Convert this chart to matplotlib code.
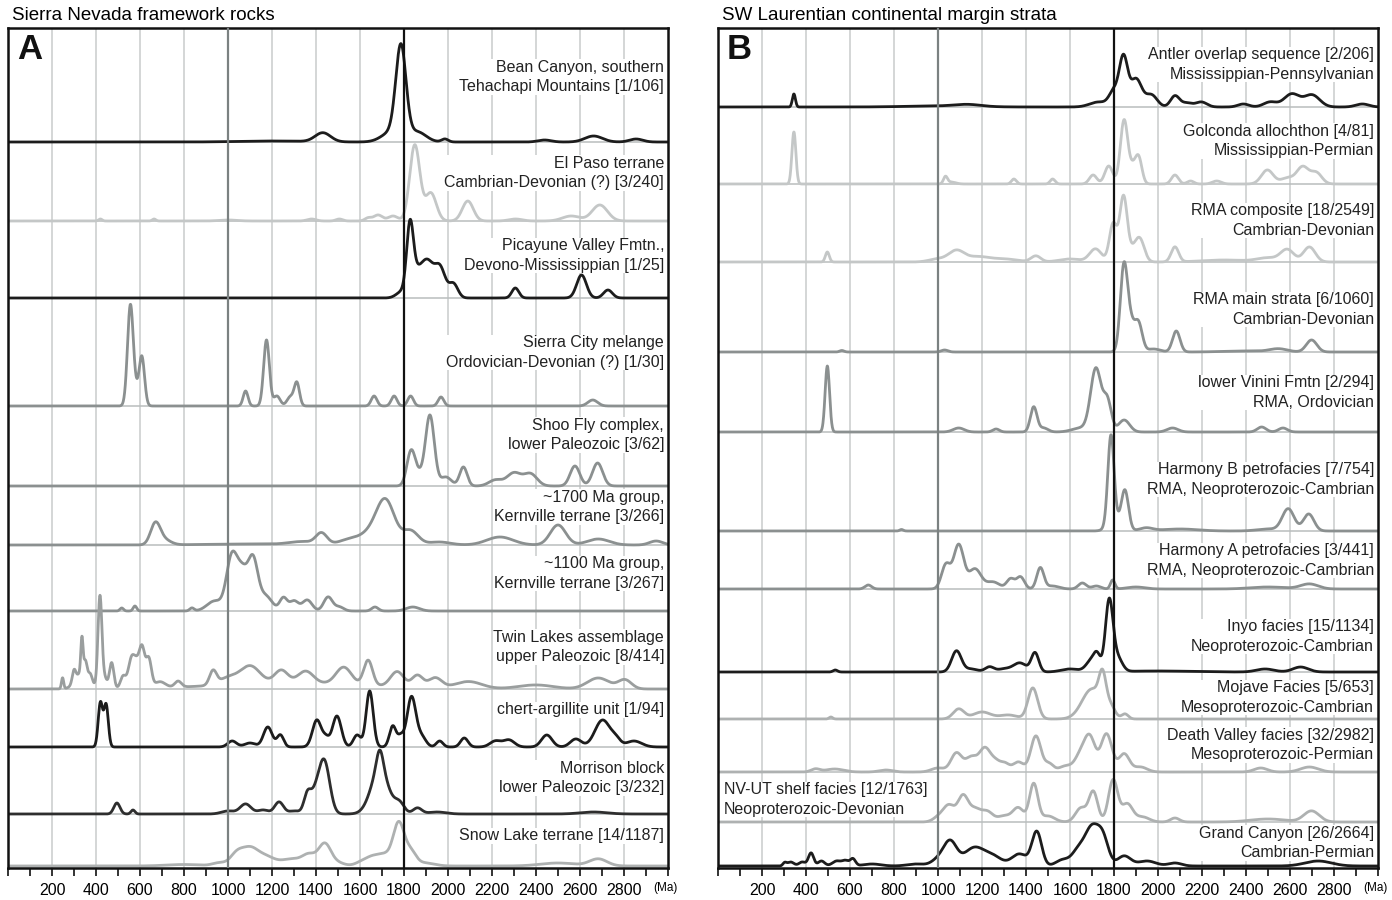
import numpy as np
import matplotlib.pyplot as plt

plt.rcParams['font.family'] = ['Liberation Sans', 'DejaVu Sans']

# detrital zircon age peaks: (age Ma, peak height, spread Ma)
BEAN_CANYON = [(1786, 90, 23), (1745, 10, 45), (1860, 10, 40), (1431, 9, 35), (1986, 3, 15),
               (2439, 2, 30), (2662, 6, 40), (2855, 3, 30), (1200, 1, 150)]
EL_PASO = [(1849, 76, 23), (1922, 28, 25), (2090, 20, 25), (1682, 6, 20), (1750, 5, 22),
           (1637, 3, 15), (1506, 2, 15), (1380, 2, 20), (2690, 16, 35), (2560, 5, 40),
           (2307, 2, 30), (420, 2, 8), (664, 2, 8), (1000, 1, 40)]
PICAYUNE = [(1790, 6, 25), (1827, 62, 15), (1850, 20, 25), (1905, 36, 30), (1965, 28, 24),
            (2025, 14, 20), (2306, 10, 16), (2607, 23, 22), (2727, 8, 20)]
SIERRA_CITY = [(556, 96, 13), (609, 44, 12), (583, 14, 20), (1080, 15, 11), (1175, 66, 13),
               (1222, 10, 15), (1283, 9, 15), (1313, 23, 12), (1664, 10, 13), (1755, 10, 13),
               (1830, 10, 13), (1968, 9, 13), (2658, 6, 22)]
SHOO_FLY = [(1832, 34, 19), (1870, 10, 22), (1918, 70, 20), (1990, 9, 25), (2070, 19, 17),
            (2216, 6, 30), (2300, 13, 32), (2375, 12, 30), (2577, 20, 22), (2680, 23, 23)]
KERN_1700 = [(670, 21, 22), (710, 5, 30), (1425, 11, 25), (1340, 3, 60), (1560, 6, 50),
             (1640, 8, 40), (1715, 45, 42), (1830, 14, 35), (1960, 3, 50), (2236, 8, 60),
             (2500, 20, 35), (2683, 6, 50), (2946, 4, 30), (1100, 1, 200)]
KERN_1100 = [(940, 10, 35), (1017, 52, 24), (1065, 37, 25), (1114, 48, 22), (1170, 15, 30),
             (1252, 13, 17), (1300, 10, 20), (1360, 11, 22), (1455, 14, 20), (1506, 4, 20),
             (1668, 4, 15), (1840, 4, 30), (517, 3, 8), (577, 5, 8), (836, 3, 10)]
TWIN_LAKES = [(248, 11, 5), (340, 18, 30), (300, 12, 8), (336, 34, 5), (352, 12, 7),
              (375, 6, 8), (418, 92, 9), (440, 10, 10), (471, 26, 10), (523, 12, 12),
              (562, 30, 15), (585, 16, 12), (609, 40, 13), (640, 28, 12), (690, 6, 25),
              (773, 6, 15), (932, 14, 16), (1000, 7, 40), (1100, 18, 45), (1242, 13, 30),
              (1353, 12, 35), (1526, 17, 35), (1637, 25, 20), (1769, 15, 30), (1861, 12, 25),
              (1942, 10, 30), (2094, 7, 60), (2399, 4, 80), (2683, 11, 50), (2804, 9, 30),
              (1300, 6, 350)]
CHERT_ARGILLITE = [(420, 44, 10), (446, 42, 10), (1019, 6, 20), (1100, 4, 25), (1181, 20, 20),
                   (1238, 12, 15), (1404, 27, 20), (1445, 8, 15), (1495, 31, 20), (1587, 12, 17),
                   (1644, 56, 16), (1749, 21, 15), (1785, 10, 14), (1834, 50, 20), (1880, 10, 20),
                   (1962, 6, 15), (2074, 9, 17), (2216, 6, 25), (2277, 7, 25), (2449, 12, 24),
                   (2581, 8, 25), (2703, 27, 35), (2764, 6, 20), (2845, 6, 35)]
MORRISON = [(495, 11, 14), (568, 4, 9), (1000, 3, 30), (1080, 10, 25), (1160, 4, 25),
            (1232, 12, 20), (1300, 3, 25), (1360, 14, 15), (1400, 22, 30), (1440, 45, 24),
            (1690, 20, 15), (1690, 44, 40), (1780, 10, 22), (1861, 6, 20), (1950, 2, 40),
            (2662, 2, 60)]
SNOW_LAKE = [(960, 3, 30), (1040, 12, 30), (1100, 16, 35), (1170, 9, 40), (1290, 7, 50),
             (1370, 10, 30), (1440, 22, 28), (1500, 3, 30), (1610, 4, 30), (1660, 8, 30),
             (1715, 10, 30), (1776, 42, 25), (1830, 14, 25), (1900, 3, 40), (2500, 3, 80),
             (2683, 7, 40), (800, 1.5, 80)]

ANTLER = [(345, 13, 7), (1135, 2, 60), (1000, 1, 150), (1730, 5, 40), (1800, 15, 22),
          (1843, 48, 19), (1900, 28, 26), (1970, 12, 26), (2077, 11, 20), (2130, 4, 25),
          (2197, 5, 25), (2388, 3, 25), (2510, 5, 30), (2608, 13, 35), (2700, 12, 35),
          (2929, 3, 30)]
GOLCONDA = [(345, 52, 9), (1034, 7, 9), (1060, 2, 20), (1345, 5, 11), (1521, 5, 11),
            (1705, 9, 17), (1776, 18, 18), (1846, 64, 17), (1885, 14, 15), (1912, 26, 15),
            (2077, 9, 16), (2148, 3, 15), (2267, 3, 20), (2497, 14, 27), (2588, 6, 30),
            (2658, 17, 27), (2720, 11, 25)]
RMA_COMPOSITE = [(497, 10, 9), (1000, 3, 40), (1084, 11, 35), (1180, 5, 50), (1300, 3, 60),
                 (1445, 6, 22), (1600, 3, 50), (1716, 13, 27), (1796, 38, 17), (1843, 64, 17),
                 (1890, 12, 25), (1920, 18, 20), (2077, 15, 17), (2300, 2, 100), (2500, 4, 50),
                 (2588, 12, 30), (2688, 15, 27)]
RMA_MAIN = [(563, 1.5, 10), (1030, 2, 15), (1844, 78, 16), (1872, 30, 20), (1912, 27, 17),
            (1980, 3, 30), (2083, 21, 17), (2548, 3, 40), (2698, 12, 24), (2400, 1, 100)]
LOWER_VININI = [(497, 66, 10), (1094, 4, 25), (1264, 3, 15), (1435, 25, 15), (1480, 4, 20),
                (1650, 4, 40), (1718, 63, 24), (1770, 30, 18), (1846, 12, 25), (2066, 4, 25),
                (2471, 5, 20), (2568, 4, 20)]
HARMONY_B = [(834, 1.5, 8), (1786, 88, 14), (1805, 10, 30), (1850, 38, 16), (1946, 3, 30),
             (2100, 2, 80), (2500, 2, 50), (2592, 22, 27), (2685, 17, 24)]
HARMONY_A = [(683, 4, 15), (1036, 24, 20), (1094, 44, 23), (1168, 20, 28), (1250, 7, 30),
             (1330, 10, 18), (1375, 12, 18), (1465, 21, 16), (1520, 3, 30), (1656, 6, 18),
             (1720, 3, 20), (1794, 9, 10), (1900, 2, 40), (2500, 2, 80), (2688, 5, 40)]
INYO = [(533, 2, 10), (1084, 21, 22), (1150, 3, 30), (1234, 5, 20), (1300, 3, 30),
        (1372, 9, 30), (1441, 19, 17), (1600, 3, 40), (1700, 12, 25), (1724, 12, 15),
        (1778, 70, 17), (1815, 14, 22), (2000, 1, 150), (2487, 3, 40), (2648, 5, 35)]
MOJAVE = [(513, 2, 8), (1094, 10, 25), (1200, 7, 40), (1320, 4, 40), (1431, 31, 22),
          (1700, 30, 45), (1748, 31, 16), (1785, 10, 20), (1850, 5, 15)]
DEATH_VALLEY = [(443, 3, 20), (530, 3, 40), (763, 2, 30), (1000, 4, 30), (1084, 19, 25),
                (1150, 14, 25), (1214, 24, 27), (1265, 8, 20), (1304, 8, 20), (1365, 10, 25),
                (1445, 36, 23), (1505, 8, 20), (1580, 6, 30), (1646, 15, 25), (1690, 34, 25),
                (1766, 38, 25), (1846, 18, 24), (1920, 5, 30), (2467, 4, 30), (2688, 5, 40)]
NV_UT_SHELF = [(1004, 5, 25), (1050, 16, 25), (1114, 26, 24), (1170, 12, 25), (1224, 10, 25),
               (1300, 6, 30), (1365, 14, 25), (1435, 38, 19), (1500, 6, 30), (1650, 14, 25),
               (1706, 30, 20), (1796, 42, 21), (1860, 18, 25), (1930, 5, 30), (2077, 4, 20),
               (2500, 3, 80), (2698, 11, 35)]
GRAND_CANYON = [(303, 3, 8), (330, 4, 15), (383, 4, 15), (423, 13, 12), (470, 5, 15),
                (540, 5, 20), (580, 5, 15), (613, 7, 12), (700, 2, 40), (900, 2, 40),
                (1000, 6, 30), (1055, 24, 30), (1164, 18, 45), (1250, 9, 40), (1370, 12, 35),
                (1449, 34, 22), (1566, 6, 30), (1640, 16, 30), (1700, 36, 30), (1750, 26, 25),
                (1846, 10, 30), (1950, 5, 40), (2077, 3, 30), (2728, 5, 60)]

LEFT_PEAKS = [BEAN_CANYON, EL_PASO, PICAYUNE, SIERRA_CITY, SHOO_FLY, KERN_1700, KERN_1100,
              TWIN_LAKES, CHERT_ARGILLITE, MORRISON, SNOW_LAKE]
LEFT_NAMES = ['Bean Canyon, southern\nTehachapi Mountains [1/106]',
              'El Paso terrane\nCambrian-Devonian (?) [3/240]',
              'Picayune Valley Fmtn.,\nDevono-Mississippian [1/25]',
              'Sierra City melange\nOrdovician-Devonian (?) [1/30]',
              'Shoo Fly complex,\nlower Paleozoic [3/62]',
              '~1700 Ma group,\nKernville terrane [3/266]',
              '~1100 Ma group,\nKernville terrane [3/267]',
              'Twin Lakes assemblage\nupper Paleozoic [8/414]',
              'chert-argillite unit [1/94]',
              'Morrison block\nlower Paleozoic [3/232]',
              'Snow Lake terrane [14/1187]']

RIGHT_PEAKS = [ANTLER, GOLCONDA, RMA_COMPOSITE, RMA_MAIN, LOWER_VININI, HARMONY_B, HARMONY_A,
               INYO, MOJAVE, DEATH_VALLEY, NV_UT_SHELF, GRAND_CANYON]
RIGHT_NAMES = ['Antler overlap sequence [2/206]\nMississippian-Pennsylvanian',
               'Golconda allochthon [4/81]\nMississippian-Permian',
               'RMA composite [18/2549]\nCambrian-Devonian',
               'RMA main strata [6/1060]\nCambrian-Devonian',
               'lower Vinini Fmtn [2/294]\nRMA, Ordovician',
               'Harmony B petrofacies [7/754]\nRMA, Neoproterozoic-Cambrian',
               'Harmony A petrofacies [3/441]\nRMA, Neoproterozoic-Cambrian',
               'Inyo facies [15/1134]\nNeoproterozoic-Cambrian',
               'Mojave Facies [5/653]\nMesoproterozoic-Cambrian',
               'Death Valley facies [32/2982]\nMesoproterozoic-Permian',
               'NV-UT shelf facies [12/1763]\nNeoproterozoic-Devonian',
               'Grand Canyon [26/2664]\nCambrian-Permian']

TICK_AGES = list(range(200, 2801, 200))

# layout (pixel rows from top of the figure) and styles
BLACK, DARK, MID, TWIN, LIGHT, PALE = '#1c1c1c', '#2e2e2e', '#8b9090', '#9a9e9e', '#aeb1b1', '#c4c7c7'
LEFT_COLORS = [BLACK, PALE, BLACK, MID, MID, MID, MID, TWIN, BLACK, DARK, LIGHT]
RIGHT_COLORS = [BLACK, PALE, PALE, MID, MID, MID, MID, BLACK, LIGHT, LIGHT, LIGHT, BLACK]
LEFT_BASE = [142, 221, 298, 406, 486, 545, 611, 689, 747, 814, 866]
RIGHT_BASE = [107, 184, 262, 352, 432, 531, 589, 672, 719, 772, 822, 866]
LEFT_TEXT_Y = [77, 173, 255.5, 352.5, 435, 507, 573.5, 647, 710, 778, 836]
RIGHT_TEXT_Y = [64.5, 141, 220.5, 309.5, 392.5, 479.5, 560.5, 636.5, 697.5, 745, 799.5, 843]

W, H = 1392, 900
TOP, BOTTOM = 28, 868
ages = np.linspace(0, 3000, 3001)


def density(peaks):
    curve = np.zeros_like(ages)
    for age, height, spread in peaks:
        curve += height * np.exp(-0.5 * ((ages - age) / spread) ** 2)
    return curve


def draw_panel(ax, peaks_list, names, colors, bases, text_y, letter, left_label=None):
    ax.set_xlim(0, 3000)
    ax.set_ylim(BOTTOM, TOP)
    for x in range(200, 3000, 200):
        if x == 1000:
            ax.axvline(x, color='#7b8181', lw=1.6, zorder=3)
        elif x == 1800:
            ax.axvline(x, color='#111111', lw=1.6, zorder=3)
        else:
            ax.axvline(x, color='#c9cccc', lw=1.1, zorder=1)
    for b in bases[:-1]:
        ax.axhline(b, color='#b9bdbd', lw=1.1, zorder=1)
    for i, (peaks, name, col, b, ty) in enumerate(zip(peaks_list, names, colors, bases, text_y)):
        ax.plot(ages, b - density(peaks), color=col, lw=2.0, zorder=2.5,
                solid_joinstyle='round')
        box = dict(facecolor='white', edgecolor='none', pad=0.5)
        if left_label == i:
            ax.text(25, ty, name, ha='left', va='center', fontsize=11.5, linespacing=1.38,
                    color='#222222', zorder=2, bbox=box)
        else:
            ax.text(2982, ty, name, ha='right', va='center', fontsize=11.5, linespacing=1.38,
                    color='#222222', zorder=2, multialignment='right', bbox=box)
    ax.text(40, 50, letter, fontsize=25, fontweight='bold', va='center', ha='left',
            color='#111111', zorder=4)
    ax.set_yticks([])
    ax.set_xticks(TICK_AGES)
    ax.set_xticklabels([str(t) for t in TICK_AGES], fontsize=11.5)
    ax.set_xticks(range(0, 3001, 100), minor=True)
    ax.tick_params(axis='x', which='both', direction='out', length=6, width=1.2,
                   color='#111111', pad=4.5)
    ax.text(2935, 888, '(Ma)', fontsize=8.5, ha='left', va='center', clip_on=False)
    for s in ax.spines.values():
        s.set_linewidth(1.8)
        s.set_color('#111111')


fig = plt.figure(figsize=(W / 100, H / 100), dpi=100)
ax_a = fig.add_axes([8 / W, 1 - BOTTOM / H, 660 / W, (BOTTOM - TOP) / H])
ax_b = fig.add_axes([718 / W, 1 - BOTTOM / H, 660 / W, (BOTTOM - TOP) / H])

draw_panel(ax_a, LEFT_PEAKS, LEFT_NAMES, LEFT_COLORS, LEFT_BASE, LEFT_TEXT_Y, 'A')
draw_panel(ax_b, RIGHT_PEAKS, RIGHT_NAMES, RIGHT_COLORS, RIGHT_BASE, RIGHT_TEXT_Y, 'B',
           left_label=10)

fig.text(12 / W, 1 - 15 / H, 'Sierra Nevada framework rocks', fontsize=13.5, va='center')
fig.text(722 / W, 1 - 15 / H, 'SW Laurentian continental margin strata', fontsize=13.5,
         va='center')

fig.savefig('out.png', dpi=100)
